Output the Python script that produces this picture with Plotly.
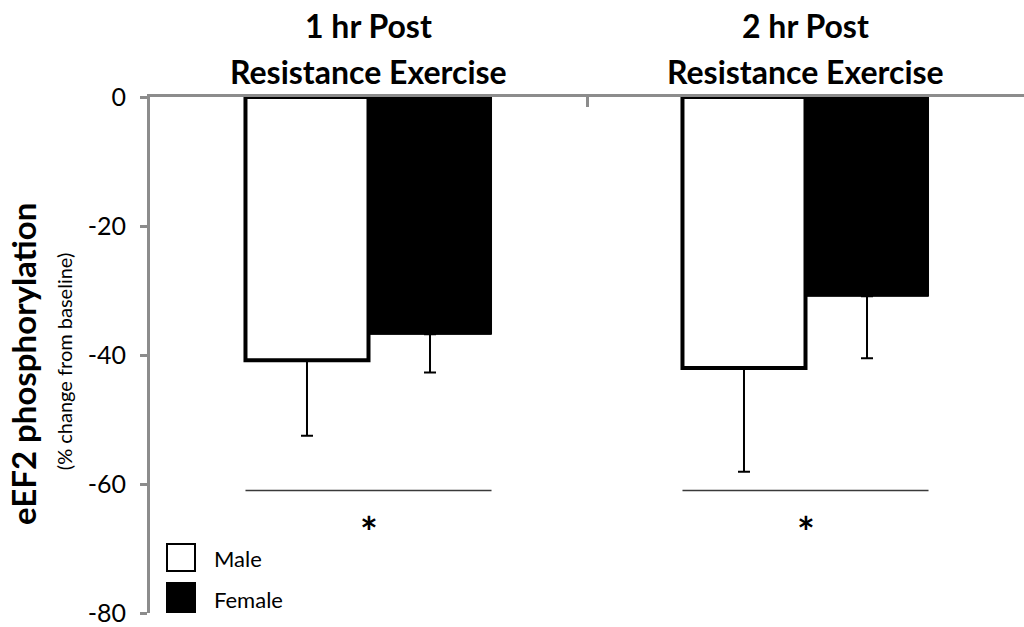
import plotly.graph_objects as go

# ---- data ----
timepoints = ["1 hr Post", "2 hr Post"]
title_line2 = "Resistance Exercise"
series_names = ["Male", "Female"]
male_mean = [-40.8, -42.0]
male_err = [11.7, 16.1]
female_mean = [-36.8, -30.9]
female_err = [5.9, 9.6]
sig_y = -61.0
star_y = -67.5
y_ticks = [0, -20, -40, -60, -80]

FONT = "Lato"
AXIS_GRAY = "#8c8c8c"
BARGAP = 0.437

fig = go.Figure()
fig.add_trace(go.Bar(
    name=series_names[0], x=timepoints, y=male_mean,
    marker=dict(color="white", line=dict(color="black", width=4)),
    error_y=dict(type="data", symmetric=False, array=[0, 0], arrayminus=male_err,
                 color="black", thickness=2, width=6),
))
fig.add_trace(go.Bar(
    name=series_names[1], x=timepoints, y=female_mean,
    marker=dict(color="black", line=dict(color="black", width=1)),
    error_y=dict(type="data", symmetric=False, array=[0, 0], arrayminus=female_err,
                 color="black", thickness=2, width=6),
))

half = (1 - BARGAP) / 2
shapes = []
annotations = []
for i, tp in enumerate(timepoints):
    shapes.append(dict(type="line", xref="x", yref="y", x0=i - half, x1=i + half,
                       y0=sig_y, y1=sig_y, line=dict(color="#3a3a3a", width=1.5)))
    annotations.append(dict(x=tp, y=star_y, xref="x", yref="y", text="<b>*</b>",
                            showarrow=False, font=dict(family=FONT, size=42, color="black"),
                            xanchor="center", yanchor="middle"))
    annotations.append(dict(x=tp, y=1, xref="x", yref="paper", text="<b>%s</b>" % tp,
                            showarrow=False, font=dict(family=FONT, size=32, color="black"),
                            xanchor="center", yanchor="middle", yshift=72))
    annotations.append(dict(x=tp, y=1, xref="x", yref="paper", text="<b>%s</b>" % title_line2,
                            showarrow=False, font=dict(family=FONT, size=32, color="black"),
                            xanchor="center", yanchor="middle", yshift=26))

# legend (drawn manually for large swatches)
legend_fill = ["white", "black"]
legend_rows = [(42, 69, 55), (1, 30, 14)]
for name, fill, (y0, y1, ty) in zip(series_names, legend_fill, legend_rows):
    shapes.append(dict(type="rect", xref="paper", yref="paper",
                       xsizemode="pixel", ysizemode="pixel", xanchor=0, yanchor=0,
                       x0=17, x1=45, y0=y0, y1=y1,
                       fillcolor=fill, line=dict(color="black", width=2)))
    annotations.append(dict(x=0, y=0, xref="paper", yref="paper", text=name,
                            showarrow=False, font=dict(family=FONT, size=22, color="black"),
                            xanchor="left", yanchor="middle", xshift=62, yshift=ty))

# y-axis titles
annotations.append(dict(x=0, y=0.4826, xref="paper", yref="paper",
                        text="<b>eEF2 phosphorylation</b>", textangle=-90, showarrow=False,
                        font=dict(family=FONT, size=33, color="black"),
                        xanchor="center", yanchor="middle", xshift=-127))
annotations.append(dict(x=0, y=0.488, xref="paper", yref="paper",
                        text="(% change from baseline)", textangle=-90, showarrow=False,
                        font=dict(family=FONT, size=20, color="black"),
                        xanchor="center", yanchor="middle", xshift=-86))

fig.update_layout(
    width=1024, height=627,
    margin=dict(l=150, r=0, t=97, b=12),
    plot_bgcolor="white", paper_bgcolor="white",
    barmode="group", bargap=BARGAP, bargroupgap=0,
    showlegend=False,
    shapes=shapes, annotations=annotations,
    font=dict(family=FONT, color="black"),
)
fig.update_xaxes(type="category", side="top", range=[-0.5, 1.5],
                 showline=True, linecolor=AXIS_GRAY, linewidth=3,
                 ticks="inside", tickson="boundaries", ticklen=10, tickwidth=3,
                 tickcolor=AXIS_GRAY, showticklabels=False, showgrid=False, zeroline=False)
fig.update_yaxes(range=[-80, 0], tickvals=y_ticks, ticktext=[str(v) for v in y_ticks],
                 showline=True, linecolor=AXIS_GRAY, linewidth=3,
                 ticks="outside", ticklen=7, tickwidth=3, tickcolor=AXIS_GRAY,
                 tickfont=dict(family=FONT, size=25, color="black"),
                 ticklabeloverflow="allow", ticklabelstandoff=9,
                 showgrid=False, zeroline=False)

fig.write_html("out.html",
               config={"displayModeBar": False},
               post_script="document.body.style.margin='0px';document.body.style.overflow='hidden';")
